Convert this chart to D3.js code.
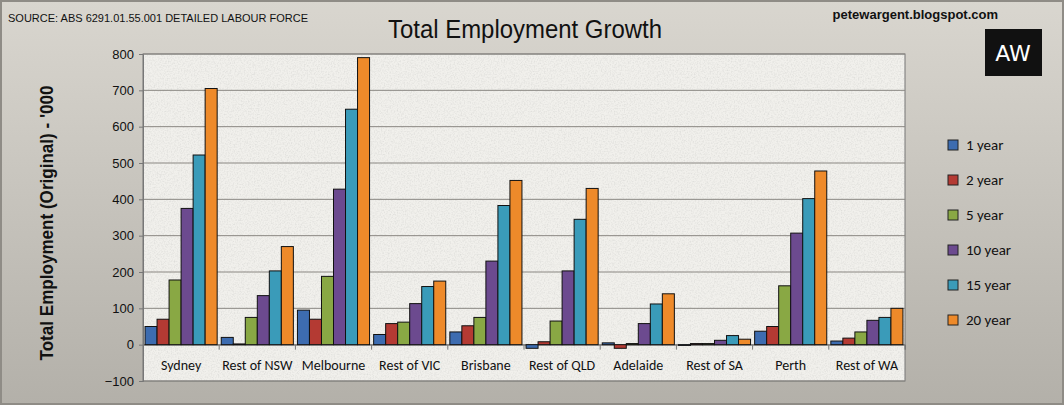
<!DOCTYPE html>
<html><head><meta charset="utf-8">
<script src="https://cdn.jsdelivr.net/npm/d3@7"></script>
<style>body{margin:0;background:#bdbab3}</style></head>
<body><svg id="c" width="1064" height="405"></svg>
<script>
var regions = ["Sydney","Rest of NSW","Melbourne","Rest of VIC","Brisbane","Rest of QLD","Adelaide","Rest of SA","Perth","Rest of WA"];
var seriesNames = ["1 year","2 year","5 year","10 year","15 year","20 year"];
var colors = ["#3d6cb0","#b43a33","#89a844","#6c4a8f","#3a9bb9","#ee8a2a"];
var y1 = [50, 20, 95, 28, 35, -10, 5, -2, 37, 10];
var y2 = [70, 2, 70, 58, 52, 8, -10, 3, 50, 18];
var y5 = [178, 75, 188, 62, 75, 65, 3, 3, 162, 35];
var y10 = [375, 135, 428, 113, 230, 203, 58, 12, 307, 67];
var y15 = [522, 203, 648, 160, 383, 345, 112, 25, 402, 75];
var y20 = [705, 270, 790, 175, 452, 430, 140, 15, 478, 100];
var yTicks = [-100,0,100,200,300,400,500,600,700,800];
var all = [y1,y2,y5,y10,y15,y20];

var svg = d3.select("#c");
var defs = svg.append("defs");
var g1 = defs.append("linearGradient").attr("id","bg").attr("x1",0).attr("y1",0).attr("x2",0).attr("y2",1);
g1.append("stop").attr("offset",0).attr("stop-color","#d9d6cf");
g1.append("stop").attr("offset",1).attr("stop-color","#b3b0a9");
var f = defs.append("filter").attr("id","noise").attr("x",0).attr("y",0).attr("width","100%").attr("height","100%");
f.append("feTurbulence").attr("type","fractalNoise").attr("baseFrequency",0.7).attr("numOctaves",2);
f.append("feColorMatrix").attr("type","matrix").attr("values","0 0 0 0 0.6  0 0 0 0 0.6  0 0 0 0 0.58  0 0 0 -2.2 1.3");

svg.append("rect").attr("width",1064).attr("height",405).attr("fill","url(#bg)");
svg.append("rect").attr("x",1).attr("y",1).attr("width",1062).attr("height",403).attr("fill","none").attr("stroke","#8f8c86").attr("stroke-width",2);

var x0 = d3.scaleBand().domain(regions).range([143,905]);
var x1 = d3.scaleBand().domain(d3.range(6)).range([0,x0.bandwidth()]).paddingInner(0).paddingOuter(0.17);
var y = d3.scaleLinear().domain([-100,800]).range([381,54]);

// plot area
svg.append("rect").attr("x",143).attr("y",54).attr("width",762).attr("height",327).attr("fill","#f1f0ec");
svg.append("rect").attr("x",143).attr("y",54).attr("width",762).attr("height",327).attr("filter","url(#noise)").attr("opacity",0.45);
svg.append("rect").attr("x",143).attr("y",54).attr("width",762).attr("height",327).attr("fill","none").attr("stroke","#777").attr("stroke-width",1);

svg.append("g").selectAll("line").data(yTicks).join("line")
  .attr("x1",143).attr("x2",905).attr("y1",d=>y(d)).attr("y2",d=>y(d))
  .attr("stroke","#8a8782").attr("stroke-width",1);

svg.append("g").attr("transform","translate(143,0)")
  .call(d3.axisLeft(y).tickValues(yTicks).tickSize(4))
  .call(g=>{g.select(".domain").attr("stroke","#777");g.selectAll("line").attr("stroke","#777");
    g.selectAll("text").attr("font-family","Arial, Liberation Sans").attr("font-size",13).attr("fill","#111").attr("dx",-2);});

svg.append("g").attr("transform","translate(0,"+y(0)+")")
  .call(d3.axisBottom(x0).tickSize(5).tickFormat(""))
  .call(g=>{g.select(".domain").attr("stroke","#777");g.selectAll("line").attr("stroke","#777").attr("transform","translate("+(x0.bandwidth()/2)+",0)");});

svg.append("g").selectAll("text").data(regions).join("text")
  .attr("x",d=>x0(d)+x0.bandwidth()/2).attr("y",370).attr("text-anchor","middle")
  .attr("font-family","Calibri, Carlito, Liberation Sans").attr("font-size",14).attr("fill","#111").text(d=>d);

var groups = svg.append("g").selectAll("g").data(regions).join("g").attr("transform",d=>"translate("+x0(d)+",0)");
groups.selectAll("rect").data((d,i)=>all.map((s,k)=>({k:k,v:s[i]}))).join("rect")
  .attr("x",d=>x1(d.k)).attr("width",x1.bandwidth())
  .attr("y",d=>y(Math.max(0,d.v))).attr("height",d=>Math.abs(y(d.v)-y(0)))
  .attr("fill",d=>colors[d.k]).attr("stroke","#111").attr("stroke-width",1);

// legend
var lg = svg.append("g").selectAll("g").data(seriesNames).join("g")
  .attr("transform",(d,i)=>"translate(948,"+(150+i*35)+")");
lg.append("rect").attr("width",10).attr("height",10).attr("y",-10).attr("fill",(d,i)=>colors[i]).attr("stroke","#222");
lg.append("text").attr("x",18).attr("font-family","Calibri, Carlito, Liberation Sans").attr("font-size",15).attr("fill","#111").text(d=>d);

svg.append("text").attr("x",525).attr("y",38).attr("text-anchor","middle").attr("textLength",274).attr("lengthAdjust","spacingAndGlyphs").attr("font-family","Liberation Sans").attr("font-size",25).attr("fill","#111").text("Total Employment Growth");
svg.append("text").attr("x",8).attr("y",22).attr("font-family","Arial, Liberation Sans").attr("font-size",11).attr("fill","#111").text("SOURCE: ABS 6291.01.55.001 DETAILED LABOUR FORCE");
svg.append("text").attr("x",998).attr("y",19).attr("text-anchor","end").attr("font-family","Arial, Liberation Sans").attr("font-weight","bold").attr("font-size",13).attr("fill","#111").text("petewargent.blogspot.com");
svg.append("rect").attr("x",985).attr("y",29).attr("width",57).attr("height",47).attr("fill","#111");
svg.append("text").attr("x",1013).attr("y",61).attr("text-anchor","middle").attr("font-family","DejaVu Sans, Liberation Sans").attr("font-size",22).attr("fill","#fff").text("AW");
svg.append("text").attr("transform","translate(53,223) rotate(-90)").attr("text-anchor","middle").attr("textLength",275).attr("lengthAdjust","spacingAndGlyphs").attr("font-family","Liberation Sans").attr("font-weight","bold").attr("font-size",18).attr("fill","#111").text("Total Employment (Original) - '000");
</script></body></html>
